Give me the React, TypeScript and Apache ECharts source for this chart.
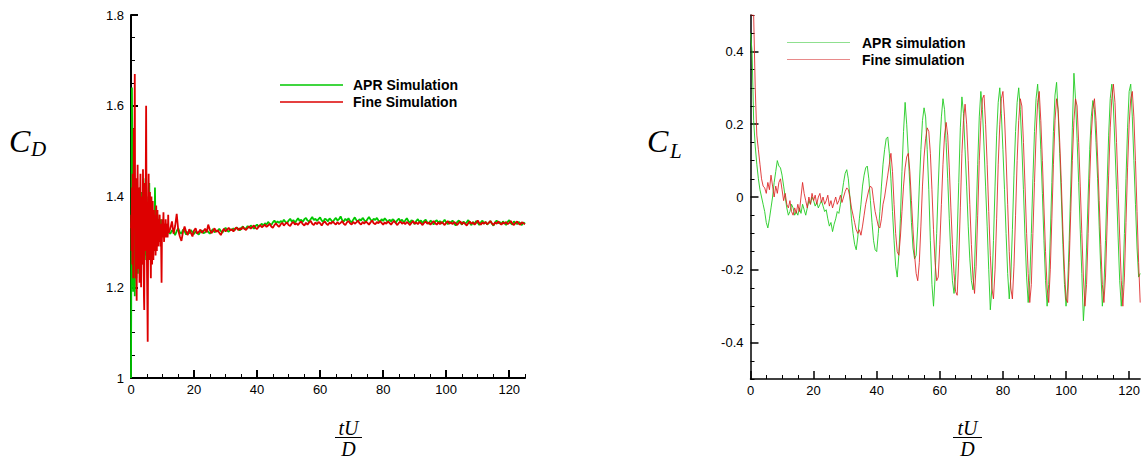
import { useEffect, useRef } from "react";
import * as echarts from "echarts";

// ---------------- DATA ----------------
// Drag coefficient, early transient: t = 0 .. 12 step 0.1
const CD_EARLY_STEP = 0.1;
const cdAprEarly = [
  1.0, 1.22, 1.47, 1.64, 1.51, 1.36, 1.24, 1.19, 1.3, 1.44, 1.4,
  1.27, 1.18, 1.25, 1.38, 1.43, 1.33, 1.22, 1.26, 1.37, 1.41,
  1.31, 1.23, 1.28, 1.39, 1.36, 1.25, 1.29, 1.42, 1.37, 1.27,
  1.24, 1.33, 1.41, 1.35, 1.26, 1.3, 1.4, 1.34, 1.25, 1.31,
  1.39, 1.36, 1.27, 1.29, 1.38, 1.44, 1.32, 1.26, 1.33, 1.4,
  1.34, 1.27, 1.31, 1.38, 1.35, 1.28, 1.32, 1.43, 1.36, 1.29,
  1.3, 1.37, 1.34, 1.28, 1.33, 1.38, 1.32, 1.29, 1.35, 1.37,
  1.31, 1.29, 1.36, 1.34, 1.3, 1.42, 1.37, 1.31, 1.3, 1.35,
  1.34, 1.3, 1.32, 1.36, 1.33, 1.31, 1.34, 1.35, 1.31, 1.32,
  1.35, 1.33, 1.31, 1.34, 1.35, 1.32, 1.32, 1.34, 1.33, 1.31,
  1.33, 1.34, 1.32, 1.32, 1.34, 1.33, 1.32, 1.33, 1.34, 1.32,
  1.32, 1.33, 1.33, 1.32, 1.33, 1.34, 1.32, 1.32, 1.33, 1.32,
];
const cdFineEarly = [
  1.33, 1.36, 1.28, 1.42, 1.25, 1.45, 1.3, 1.22, 1.4, 1.55, 1.35,
  1.5, 1.67, 1.4, 1.22, 1.3, 1.44, 1.25, 1.17, 1.33, 1.38,
  1.47, 1.36, 1.24, 1.3, 1.42, 1.33, 1.21, 1.28, 1.39, 1.45,
  1.32, 1.2, 1.27, 1.4, 1.36, 1.25, 1.31, 1.46, 1.38, 1.26,
  1.18, 1.15, 1.3, 1.43, 1.35, 1.28, 1.47, 1.6, 1.42, 1.3,
  1.22, 1.16, 1.08, 1.24, 1.38, 1.45, 1.34, 1.26, 1.3, 1.41,
  1.37, 1.27, 1.22, 1.33, 1.4, 1.31, 1.25, 1.34, 1.39, 1.3,
  1.26, 1.33, 1.37, 1.29, 1.28, 1.36, 1.34, 1.27, 1.31, 1.38,
  1.33, 1.28, 1.34, 1.37, 1.3, 1.29, 1.35, 1.33, 1.3, 1.34,
  1.36, 1.31, 1.29, 1.34, 1.33, 1.27, 1.21, 1.3, 1.35, 1.33,
  1.31, 1.34, 1.365, 1.32, 1.3, 1.33, 1.34, 1.31, 1.32, 1.35,
  1.33, 1.31, 1.32, 1.34, 1.33, 1.31, 1.32, 1.36, 1.33, 1.32,
];
// Drag coefficient, settled part: t = 12.5 .. 125 step 0.5
const CD_LATE_START = 12.5;
const CD_LATE_STEP = 0.5;
const cdAprLate = [
  1.318, 1.326, 1.322, 1.315, 1.324, 1.33, 1.321, 1.318, 1.327, 1.323,
  1.316, 1.322, 1.319, 1.326, 1.321, 1.317, 1.323, 1.32, 1.316, 1.322,
  1.325, 1.319, 1.321, 1.327, 1.322, 1.318, 1.324, 1.328, 1.321, 1.325,
  1.323, 1.329, 1.324, 1.32, 1.327, 1.331, 1.325, 1.322, 1.328, 1.326,
  1.33, 1.326, 1.332, 1.329, 1.325, 1.331, 1.334, 1.328, 1.33, 1.335,
  1.331, 1.336, 1.333, 1.329, 1.335, 1.338, 1.333, 1.337, 1.34, 1.336,
  1.341, 1.338, 1.344, 1.34, 1.337, 1.343, 1.347, 1.341, 1.345, 1.342,
  1.346, 1.343, 1.349, 1.344, 1.341, 1.347, 1.351, 1.345, 1.348, 1.343,
  1.347, 1.352, 1.346, 1.349, 1.344, 1.35, 1.353, 1.347, 1.345, 1.35,
  1.355, 1.348, 1.351, 1.346, 1.35, 1.354, 1.347, 1.344, 1.351, 1.349,
  1.345, 1.352, 1.348, 1.343, 1.349, 1.353, 1.347, 1.35, 1.356, 1.348,
  1.345, 1.351, 1.347, 1.352, 1.346, 1.343, 1.349, 1.354, 1.348, 1.345,
  1.35, 1.347, 1.353, 1.348, 1.344, 1.35, 1.355, 1.349, 1.346, 1.351,
  1.348, 1.353, 1.347, 1.344, 1.35, 1.346, 1.352, 1.348, 1.343, 1.349,
  1.345, 1.35, 1.347, 1.342, 1.348, 1.351, 1.345, 1.349, 1.343, 1.347,
  1.352, 1.346, 1.342, 1.348, 1.345, 1.339, 1.346, 1.35, 1.344, 1.347,
  1.341, 1.346, 1.349, 1.343, 1.34, 1.347, 1.344, 1.338, 1.345, 1.348,
  1.342, 1.346, 1.34, 1.344, 1.349, 1.343, 1.339, 1.345, 1.342, 1.347,
  1.341, 1.336, 1.344, 1.347, 1.342, 1.338, 1.345, 1.34, 1.343, 1.348,
  1.341, 1.337, 1.344, 1.339, 1.346, 1.342, 1.337, 1.343, 1.347, 1.34,
  1.344, 1.338, 1.342, 1.346, 1.34, 1.336, 1.343, 1.347, 1.341, 1.344,
  1.339, 1.345, 1.342, 1.337, 1.344, 1.348, 1.341, 1.338, 1.345, 1.342,
  1.339, 1.344, 1.341, 1.337, 1.343, 1.34,
];
const cdFineLate = [
  1.33, 1.345, 1.318, 1.335, 1.362, 1.325, 1.312, 1.302, 1.322, 1.334,
  1.322, 1.315, 1.328, 1.32, 1.312, 1.325, 1.33, 1.318, 1.322, 1.327,
  1.32, 1.324, 1.329, 1.321, 1.338, 1.327, 1.319, 1.324, 1.33, 1.322,
  1.326, 1.32, 1.315, 1.324, 1.329, 1.323, 1.327, 1.331, 1.325, 1.328,
  1.323, 1.329, 1.332, 1.326, 1.33, 1.327, 1.333, 1.329, 1.326, 1.331,
  1.334, 1.329, 1.333, 1.336, 1.331, 1.328, 1.334, 1.337, 1.332, 1.335,
  1.338, 1.333, 1.336, 1.34, 1.334, 1.331, 1.337, 1.341, 1.336, 1.333,
  1.339, 1.342, 1.336, 1.34, 1.343, 1.337, 1.335, 1.341, 1.344, 1.338,
  1.341, 1.337, 1.342, 1.345, 1.339, 1.336, 1.342, 1.338, 1.343, 1.346,
  1.34, 1.337, 1.343, 1.339, 1.344, 1.341, 1.336, 1.342, 1.345, 1.34,
  1.337, 1.343, 1.34, 1.345, 1.341, 1.338, 1.344, 1.339, 1.342, 1.346,
  1.34, 1.337, 1.343, 1.346, 1.341, 1.338, 1.344, 1.34, 1.343, 1.347,
  1.341, 1.338, 1.344, 1.34, 1.345, 1.342, 1.338, 1.343, 1.347, 1.341,
  1.339, 1.344, 1.341, 1.346, 1.342, 1.338, 1.343, 1.34, 1.345, 1.342,
  1.338, 1.343, 1.346, 1.341, 1.337, 1.342, 1.345, 1.34, 1.343, 1.339,
  1.344, 1.341, 1.337, 1.342, 1.346, 1.34, 1.343, 1.339, 1.344, 1.341,
  1.337, 1.342, 1.345, 1.34, 1.343, 1.338, 1.342, 1.346, 1.341, 1.338,
  1.343, 1.339, 1.344, 1.341, 1.337, 1.342, 1.346, 1.34, 1.343, 1.339,
  1.344, 1.341, 1.337, 1.342, 1.345, 1.339, 1.343, 1.34, 1.336, 1.341,
  1.345, 1.34, 1.343, 1.338, 1.342, 1.347, 1.341, 1.338, 1.343, 1.34,
  1.344, 1.339, 1.342, 1.346, 1.341, 1.337, 1.343, 1.34, 1.345, 1.341,
  1.338, 1.343, 1.34, 1.344, 1.339, 1.342, 1.346, 1.34, 1.337, 1.342,
  1.345, 1.34, 1.338, 1.343, 1.341, 1.339,
];

// Lift coefficient: t = 0 .. 123.5 step 0.5
const CL_STEP = 0.5;
const clApr = [
  0.45, 0.4, 0.21, 0.14, 0.09, 0.05, 0.02, 0.0, -0.02, -0.04,
  -0.07, -0.085, -0.06, -0.03, 0.0, 0.04, 0.07, 0.1, 0.085, 0.08,
  0.06, 0.03, 0.0, -0.03, -0.05, -0.04, -0.02, -0.03, -0.05, -0.04,
  -0.05, -0.03, -0.045, -0.02, -0.035, -0.05, -0.03, -0.01, -0.02, 0.0,
  -0.01, -0.025, -0.015, -0.03, -0.02, -0.01, -0.025, -0.04, -0.035, -0.06,
  -0.08, -0.07, -0.095, -0.075, -0.06, -0.04, -0.045, -0.02, 0.01, 0.04,
  0.065, 0.075, 0.05, 0.0, -0.06, -0.1, -0.13, -0.145, -0.11, -0.06,
  -0.02, 0.03, 0.06, 0.08, 0.085, 0.05, -0.01, -0.07, -0.12, -0.145,
  -0.15, -0.1, -0.04, 0.03, 0.09, 0.13, 0.16, 0.165, 0.12, 0.05,
  -0.04, -0.12, -0.19, -0.22, -0.16, -0.06, 0.07, 0.18, 0.26, 0.2,
  0.12, 0.03, -0.07, -0.14, -0.17, -0.16, -0.08, 0.03, 0.13, 0.21,
  0.245, 0.22, 0.13, 0.02, -0.12, -0.24, -0.3, -0.22, -0.1, 0.03,
  0.14, 0.22, 0.27, 0.24, 0.15, 0.05, -0.06, -0.16, -0.23, -0.265,
  -0.22, -0.11, 0.04, 0.19, 0.275, 0.23, 0.13, 0.03, -0.08, -0.17,
  -0.23, -0.255, -0.19, -0.06, 0.09, 0.22, 0.29, 0.24, 0.14, 0.03,
  -0.08, -0.2, -0.31, -0.25, -0.12, 0.03, 0.17, 0.26, 0.3, 0.23,
  0.13, 0.02, -0.1, -0.21, -0.28, -0.22, -0.09, 0.06, 0.18, 0.26,
  0.3, 0.24, 0.14, 0.02, -0.11, -0.22, -0.29, -0.23, -0.1, 0.05,
  0.18, 0.27, 0.31, 0.24, 0.13, 0.01, -0.12, -0.23, -0.3, -0.24,
  -0.11, 0.04, 0.18, 0.28, 0.315, 0.23, 0.12, 0.0, -0.13, -0.24,
  -0.3, -0.25, -0.12, 0.03, 0.19, 0.34, 0.27, 0.16, 0.04, -0.09,
  -0.21, -0.34, -0.27, -0.14, 0.0, 0.13, 0.22, 0.265, 0.24, 0.15,
  0.05, -0.08, -0.2, -0.3, -0.25, -0.12, 0.03, 0.17, 0.27, 0.31,
  0.25, 0.14, 0.02, -0.11, -0.23, -0.3, -0.24, -0.1, 0.05, 0.19,
  0.29, 0.31, 0.22, 0.1, -0.02, -0.14, -0.22, -0.21,
];
const clFine = [
  0.5, 0.5, 0.5, 0.3, 0.17, 0.13, 0.09, 0.05, 0.03, 0.025,
  0.01, 0.04, 0.02, 0.06, 0.03, 0.0, 0.03, 0.01, 0.04, 0.05,
  0.02, -0.01, 0.01, -0.02, -0.03, -0.01, -0.04, -0.05, -0.03, -0.045,
  -0.02, -0.04, 0.0, 0.04, 0.01, -0.01, -0.03, 0.0, -0.02, 0.01,
  -0.01, 0.005, -0.02, 0.0, 0.01, -0.015, 0.0, -0.02, -0.01, 0.005,
  -0.025, -0.01, -0.03, -0.015, 0.0, -0.02, -0.01, 0.005, -0.015, 0.0,
  0.015, 0.025, 0.02, 0.0, -0.03, -0.05, -0.07, -0.09, -0.1, -0.09,
  -0.105, -0.08, -0.05, -0.02, 0.0, 0.02, 0.03, 0.025, -0.01, -0.04,
  -0.06, -0.08, -0.085, -0.06, -0.02, 0.0, 0.03, 0.06, 0.09, 0.12,
  0.07, -0.02, -0.1, -0.15, -0.16, -0.11, -0.04, 0.03, 0.08, 0.11,
  0.12, 0.07, -0.01, -0.09, -0.16, -0.21, -0.23, -0.18, -0.08, 0.03,
  0.11, 0.16, 0.19, 0.18, 0.12, 0.02, -0.09, -0.18, -0.23, -0.22,
  -0.13, -0.02, 0.09, 0.17, 0.205, 0.17, 0.08, -0.03, -0.13, -0.21,
  -0.26, -0.27, -0.17, -0.03, 0.12, 0.21, 0.255, 0.2, 0.1, -0.02,
  -0.13, -0.22, -0.265, -0.19, -0.05, 0.1, 0.21, 0.27, 0.28, 0.2,
  0.09, -0.04, -0.16, -0.25, -0.28, -0.2, -0.06, 0.09, 0.2, 0.27,
  0.29, 0.22, 0.11, -0.02, -0.15, -0.25, -0.28, -0.19, -0.05, 0.1,
  0.21, 0.27, 0.25, 0.15, 0.03, -0.1, -0.21, -0.29, -0.24, -0.1,
  0.04, 0.17, 0.26, 0.29, 0.21, 0.1, -0.03, -0.15, -0.25, -0.29,
  -0.2, -0.06, 0.09, 0.21, 0.27, 0.24, 0.15, 0.04, -0.09, -0.2,
  -0.28, -0.29, -0.18, -0.04, 0.1, 0.21, 0.27, 0.25, 0.15, 0.03,
  -0.1, -0.22, -0.3, -0.24, -0.1, 0.05, 0.17, 0.24, 0.27, 0.21,
  0.11, -0.01, -0.13, -0.24, -0.29, -0.22, -0.08, 0.06, 0.19, 0.27,
  0.31, 0.26, 0.15, 0.02, -0.11, -0.23, -0.3, -0.22, -0.07, 0.08,
  0.2, 0.27, 0.29, 0.22, 0.1, -0.04, -0.18, -0.29,
];

const xTickLabels = [0, 20, 40, 60, 80, 100, 120];
const cdTickLabels = [1, 1.2, 1.4, 1.6, 1.8];
const clTickLabels = [-0.4, -0.2, 0, 0.2, 0.4];

const leftNames = ["APR Simulation", "Fine Simulation"];
const rightNames = ["APR simulation", "Fine simulation"];

// ---------------- STYLE ----------------
const SANS = '"Liberation Sans", Arial, Helvetica, sans-serif';
const SERIF = '"Liberation Serif", "DejaVu Serif", serif';
const GREEN = "#00c800";
const RED = "#dd0000";

function minorValues(min: number, max: number, step: number, majors: number[]) {
  const out: number[] = [];
  const n = Math.round((max - min) / step);
  for (let i = 0; i <= n; i++) {
    const v = Math.round((min + i * step) * 1000) / 1000;
    if (!majors.some((m) => Math.abs(m - v) < 1e-9)) out.push(v);
  }
  return out;
}

function toPairs(start: number, step: number, values: number[]) {
  return values.map((v, i) => [Math.round((start + i * step) * 1000) / 1000, v]);
}

function majorAxis(gridIndex: number, min: number, max: number, ticks: number[], pos: string, lw: number, margin: number, len: number) {
  return {
    type: "value",
    gridIndex,
    min,
    max,
    position: pos,
    axisLine: { show: true, onZero: false, lineStyle: { color: "#000", width: lw } },
    axisTick: { show: true, inside: true, length: len, customValues: ticks, lineStyle: { color: "#000", width: lw } },
    axisLabel: { show: true, customValues: ticks, color: "#000", fontSize: 13, fontFamily: SANS, margin },
    splitLine: { show: false },
    minorTick: { show: false },
  };
}

function minorAxis(gridIndex: number, min: number, max: number, ticks: number[], pos: string, len: number) {
  return {
    type: "value",
    gridIndex,
    min,
    max,
    position: pos,
    axisLine: { show: false, onZero: false },
    axisTick: { show: true, inside: true, length: len, customValues: ticks, lineStyle: { color: "#000", width: 1 } },
    axisLabel: { show: false },
    splitLine: { show: false },
  };
}

export default function App() {
  const ref = useRef<HTMLDivElement>(null);
  useEffect(() => {
    if (!ref.current) return;
    const chart = echarts.init(ref.current, null, { renderer: "svg" });

    const cdApr = [...toPairs(0, CD_EARLY_STEP, cdAprEarly), ...toPairs(CD_LATE_START, CD_LATE_STEP, cdAprLate)];
    const cdFine = [...toPairs(0, CD_EARLY_STEP, cdFineEarly), ...toPairs(CD_LATE_START, CD_LATE_STEP, cdFineLate)];
    const clAprPairs = toPairs(0, CL_STEP, clApr);
    const clFinePairs = toPairs(0, CL_STEP, clFine);

    const L_MAX = 125;
    const R_MAX = 123.5;

    const fracText = (x: number, y: number, text: string) => ({
      type: "text", x, y,
      style: { text, font: `italic 20px ${SERIF}`, lineHeight: 17, fill: "#000", textAlign: "center", textVerticalAlign: "middle" },
    });

    const option: any = {
      animation: false,
      backgroundColor: "#fff",
      grid: [
        { left: 131, top: 15, width: 394, height: 363 },
        { left: 750.5, top: 15, width: 392.5, height: 364 },
      ],
      xAxis: [
        majorAxis(0, 0, L_MAX, xTickLabels, "bottom", 2, 5, 8),
        minorAxis(0, 0, L_MAX, minorValues(0, L_MAX, 5, xTickLabels), "bottom", 4),
        majorAxis(1, 0, R_MAX, xTickLabels, "bottom", 1.5, 5, 8),
        minorAxis(1, 0, R_MAX, minorValues(0, 120, 5, xTickLabels), "bottom", 4),
      ],
      yAxis: [
        majorAxis(0, 1, 1.8, cdTickLabels, "left", 2, 7, 7),
        minorAxis(0, 1, 1.8, minorValues(1, 1.8, 0.05, cdTickLabels), "left", 4),
        majorAxis(1, -0.5, 0.5, clTickLabels, "left", 1.5, 7, 8),
        minorAxis(1, -0.5, 0.5, minorValues(-0.5, 0.5, 0.05, clTickLabels), "left", 4),
      ],
      series: [
        {
          name: leftNames[0], type: "line", xAxisIndex: 0, yAxisIndex: 0, data: cdApr,
          showSymbol: false, symbol: "none", lineStyle: { color: GREEN, width: 1.8 }, clip: true,
        },
        {
          name: leftNames[1], type: "line", xAxisIndex: 0, yAxisIndex: 0, data: cdFine,
          showSymbol: false, symbol: "none", lineStyle: { color: RED, width: 1.8 }, clip: true,
        },
        {
          name: rightNames[0], type: "line", xAxisIndex: 2, yAxisIndex: 2, data: clAprPairs,
          showSymbol: false, symbol: "none", lineStyle: { color: "#22cc22", width: 1, opacity: 0.9 }, clip: true,
        },
        {
          name: rightNames[1], type: "line", xAxisIndex: 2, yAxisIndex: 2, data: clFinePairs,
          showSymbol: false, symbol: "none", lineStyle: { color: "#dd2222", width: 1, opacity: 0.85 }, clip: true,
        },
      ],
      graphic: [
        // left legend
        { type: "line", shape: { x1: 280, y1: 85, x2: 343, y2: 85 }, style: { stroke: GREEN, lineWidth: 1.5 } },
        { type: "line", shape: { x1: 280, y1: 102, x2: 343, y2: 102 }, style: { stroke: RED, lineWidth: 1.5 } },
        { type: "text", x: 353, y: 85, style: { text: leftNames[0], font: `bold 14px ${SANS}`, fill: "#000", textVerticalAlign: "middle" } },
        { type: "text", x: 353, y: 102, style: { text: leftNames[1], font: `bold 14px ${SANS}`, fill: "#000", textVerticalAlign: "middle" } },
        // right legend
        { type: "line", shape: { x1: 787, y1: 42.5, x2: 850, y2: 42.5 }, style: { stroke: "#8fe08f", lineWidth: 1 } },
        { type: "line", shape: { x1: 787, y1: 59.5, x2: 850, y2: 59.5 }, style: { stroke: "#e88a8a", lineWidth: 1 } },
        { type: "text", x: 862, y: 43, style: { text: rightNames[0], font: `bold 14px ${SANS}`, fill: "#000", textVerticalAlign: "middle" } },
        { type: "text", x: 862, y: 60, style: { text: rightNames[1], font: `bold 14px ${SANS}`, fill: "#000", textVerticalAlign: "middle" } },
        // C_D
        { type: "text", x: 9, y: 141, style: { text: "C", font: `italic 32px ${SERIF}`, fill: "#000", textVerticalAlign: "middle" } },
        { type: "text", x: 31, y: 149, style: { text: "D", font: `italic 21px ${SERIF}`, fill: "#000", textVerticalAlign: "middle" } },
        // C_L
        { type: "text", x: 647, y: 141, style: { text: "C", font: `italic 32px ${SERIF}`, fill: "#000", textVerticalAlign: "middle" } },
        { type: "text", x: 670, y: 151, style: { text: "L", font: `italic 21px ${SERIF}`, fill: "#000", textVerticalAlign: "middle" } },
        // tU / D left
        fracText(348.5, 428, "tU"),
        { type: "line", shape: { x1: 335, y1: 437.5, x2: 362, y2: 437.5 }, style: { stroke: "#000", lineWidth: 1 } },
        fracText(348.5, 448.5, "D"),
        // tU / D right
        fracText(967.5, 428, "tU"),
        { type: "line", shape: { x1: 953, y1: 437.5, x2: 982, y2: 437.5 }, style: { stroke: "#000", lineWidth: 1 } },
        fracText(967.5, 448.5, "D"),
      ],
    };
    chart.setOption(option);
    return () => chart.dispose();
  }, []);
  return (
    <div
      ref={ref}
      style={{ position: "fixed", left: 0, top: 0, width: 1143, height: 458, background: "#fff" }}
    />
  );
}
